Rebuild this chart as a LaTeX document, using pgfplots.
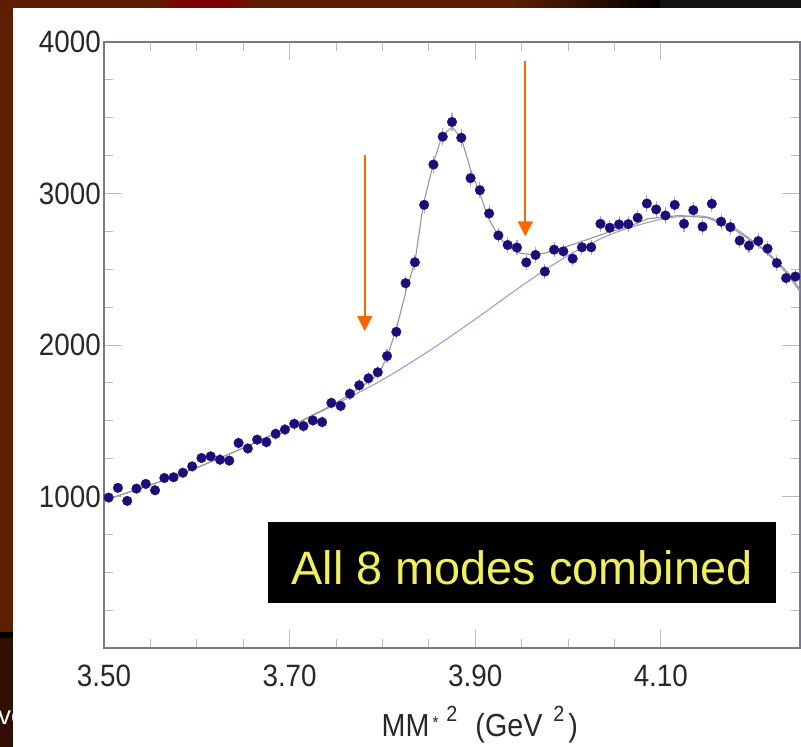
\documentclass[border=0pt]{standalone}
\usepackage{pgfplots}
\pgfplotsset{compat=1.18}
\usepackage{pgfplotstable}
\usepackage{fontspec}
\setmainfont{Liberation Sans}
\newfontfamily\narrowfont[FakeStretch=0.9]{Liberation Sans}
\usetikzlibrary{arrows.meta}
\definecolor{slidebrown}{RGB}{94,31,0}
\definecolor{darkbrown}{RGB}{48,14,0}
\definecolor{slidered}{RGB}{125,0,0}
\definecolor{axisgray}{RGB}{120,120,140}
\definecolor{tickgray}{RGB}{185,185,185}
\definecolor{labelgray}{RGB}{40,40,40}
\definecolor{navy}{RGB}{28,14,122}
\definecolor{lavender}{RGB}{165,165,225}
\definecolor{fitgray}{RGB}{150,150,150}
\definecolor{bgblue}{RGB}{150,150,215}
\definecolor{arroworange}{RGB}{255,102,0}
\definecolor{boxyellow}{RGB}{240,240,95}

\pgfplotstableread{
x y e
3.505 993 32
3.515 1057 32
3.525 971 31
3.535 1052 32
3.545 1083 33
3.555 1041 32
3.565 1122 33
3.575 1127 34
3.585 1157 34
3.595 1199 35
3.605 1254 35
3.615 1265 36
3.625 1243 35
3.635 1237 35
3.645 1353 37
3.655 1317 36
3.665 1375 37
3.675 1359 37
3.685 1414 38
3.695 1442 38
3.705 1480 38
3.715 1465 38
3.725 1502 39
3.735 1491 39
3.745 1618 40
3.755 1598 40
3.765 1678 41
3.775 1734 42
3.785 1780 42
3.795 1820 43
3.805 1927 44
3.815 2087 46
3.825 2408 49
3.835 2546 50
3.845 2925 54
3.855 3191 56
3.865 3375 58
3.875 3472 59
3.885 3368 58
3.895 3101 56
3.905 3022 55
3.915 2868 54
3.925 2723 52
3.935 2660 52
3.945 2643 51
3.955 2545 50
3.965 2594 51
3.975 2485 50
3.985 2629 51
3.995 2618 51
4.005 2570 51
4.015 2645 51
4.025 2645 51
4.035 2800 53
4.045 2774 53
4.055 2796 53
4.065 2798 53
4.075 2840 53
4.085 2934 54
4.095 2895 54
4.105 2855 53
4.115 2925 54
4.125 2800 53
4.135 2890 54
4.145 2781 53
4.155 2932 54
4.165 2814 53
4.175 2778 53
4.185 2689 52
4.195 2656 52
4.205 2686 52
4.215 2636 51
4.225 2541 50
4.235 2442 49
4.245 2452 50
}\datatable

\pgfplotstableread{
x y
3.500 975
3.550 1075
3.600 1190
3.650 1320
3.700 1460
3.750 1610
3.800 1770
3.850 1960
3.900 2170
3.950 2390
4.000 2590
4.050 2740
4.100 2830
4.130 2850
4.150 2845
4.180 2770
4.210 2630
4.235 2475
4.250 2350
}\bgtable

\pgfplotstableread{
x y
3.500 975
3.550 1075
3.600 1190
3.650 1320
3.700 1460
3.740 1585
3.760 1655
3.775 1715
3.787 1765
3.797 1820
3.806 1935
3.816 2130
3.826 2370
3.835 2545
3.844 2925
3.855 3200
3.864 3377
3.875 3440
3.885 3366
3.895 3158
3.906 2982
3.914 2840
3.925 2719
3.936 2643
3.949 2605
3.959 2598
3.974 2605
3.995 2643
4.017 2688
4.042 2741
4.067 2785
4.086 2833
4.120 2855
4.150 2840
4.176 2774
4.212 2631
4.237 2478
4.250 2365
}\fittable

\begin{document}
\begin{tikzpicture}[x=1bp,y=1bp]
% slide background
\fill[white] (0,0) rectangle (801,747);
\fill[slidebrown] (0,115) rectangle (13,747);
\fill[black] (0,109) rectangle (13,115);
\fill[darkbrown] (0,0) rectangle (13,109);
\begin{scope}
\clip (0,0) rectangle (13,747);
\node[white, anchor=base west, inner sep=0pt, font=\fontsize{26}{26}\selectfont] at (-2,22) {ve};
\end{scope}
\fill[slidebrown] (0,739) rectangle (510,747);
\shade[left color=slidebrown, right color=slidered] (150,739) rectangle (185,747);
\fill[slidered] (185,739) rectangle (225,747);
\shade[left color=slidered, right color=slidebrown] (225,739) rectangle (260,747);
\shade[left color=slidebrown, right color=black] (510,739) rectangle (660,747);
\fill[black!92] (660,739) rectangle (801,747);

\begin{axis}[
  at={(104bp,99bp)}, anchor=south west,
  scale only axis, width=696bp, height=606bp,
  xmin=3.5, xmax=4.25, ymin=0, ymax=4000,
  xtick={3.5,3.7,3.9,4.1}, xticklabels={3.50,3.70,3.90,4.10},
  ytick={0,1000,2000,3000,4000}, yticklabels={{},1000,2000,3000,4000},
  minor x tick num=3, minor y tick num=3,
  tick align=inside,
  major tick length=18bp, minor tick length=9bp,
  axis line style={draw=axisgray, line width=1.3bp},
  every tick/.style={draw=tickgray, line width=0.9bp},
  every minor tick/.style={draw=tickgray, line width=0.9bp},
  /pgf/number format/assume math mode=true,
  ticklabel style={font=\narrowfont\fontsize{31}{31}\selectfont, text=labelgray},
  yticklabel style={inner sep=0pt, xshift=-3bp},
  xticklabel style={inner sep=0pt, yshift=-17bp},
  xlabel={MM\hspace{3bp}\raisebox{8bp}{\fontsize{17}{17}\selectfont *}\hspace{8bp}\raisebox{15bp}{\fontsize{22}{22}\selectfont 2}\hspace{18bp}(GeV\hspace{11bp}\raisebox{15bp}{\fontsize{22}{22}\selectfont 2}\hspace{4bp})},
  xlabel style={font=\narrowfont\fontsize{32}{32}\selectfont, text=labelgray, inner sep=0pt,
    at={(axis description cs:0.54,-0.146)}, anchor=base},
  clip marker paths=true,
]
\addplot[bgblue, line width=1bp, smooth, no marks] table[x=x,y=y] {\bgtable};
\addplot[fitgray, line width=1.1bp, no marks] table[x=x,y=y] {\fittable};
\addplot[only marks, mark=*, mark size=4.8bp, navy,
  mark options={draw=navy, fill=navy},
  error bars/.cd, y dir=both, y explicit,
  error bar style={lavender, line width=1.1bp}, error mark=none]
  table[x=x, y=y, y error=e] {\datatable};
\draw[arroworange, line width=2bp, -{Triangle[length=15bp, width=15bp]}] (axis cs:3.781,3256) -- (axis cs:3.781,2092);
\draw[arroworange, line width=2bp, -{Triangle[length=15bp, width=15bp]}] (axis cs:3.954,3875) -- (axis cs:3.954,2717);
\end{axis}

% label box
\fill[black] (268,144) rectangle (776,225);
\node[anchor=base, inner sep=0pt, text=boxyellow, font=\fontsize{47}{47}\selectfont] at (522,162) {All 8 modes combined};

\pgfresetboundingbox
\useasboundingbox (0,0) rectangle (801,747);
\end{tikzpicture}
\end{document}
